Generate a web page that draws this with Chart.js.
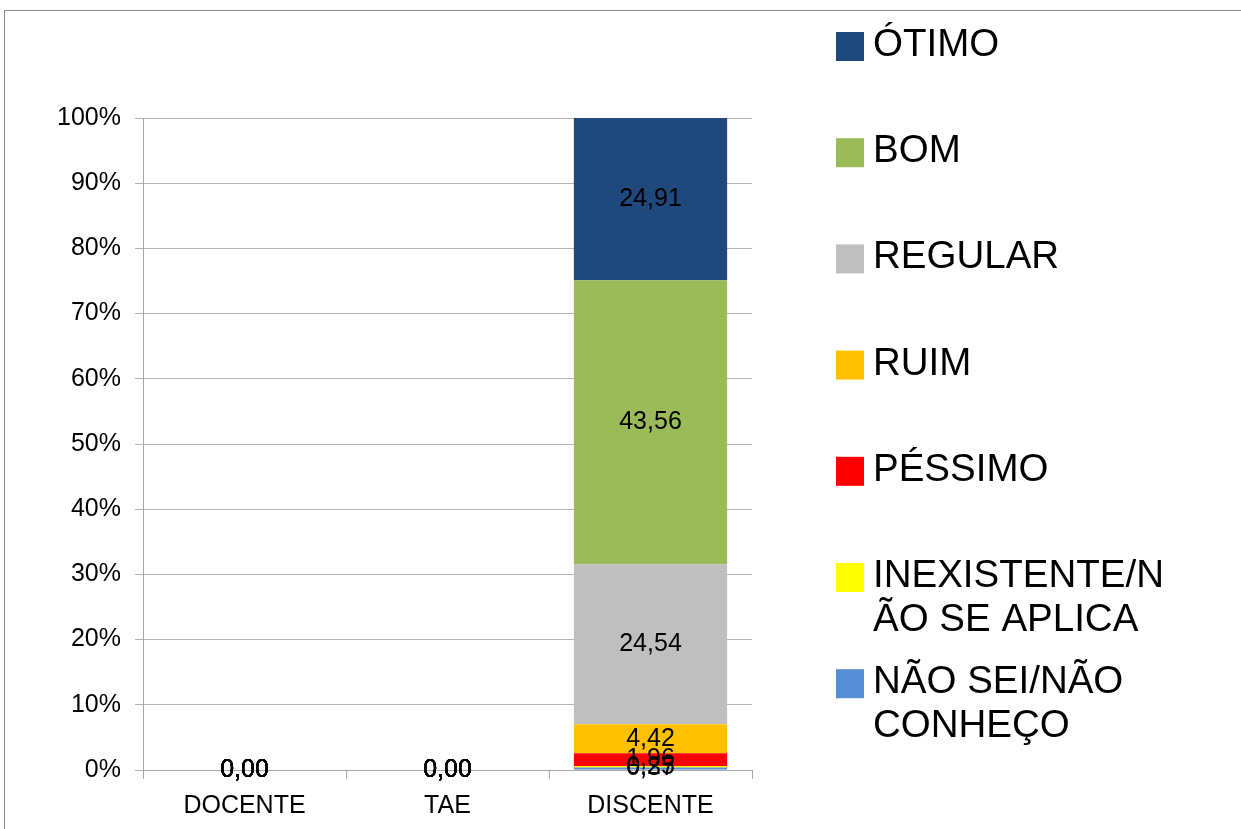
<!DOCTYPE html>
<html>
<head>
<meta charset="utf-8">
<script src="https://cdn.jsdelivr.net/npm/chart.js@4"></script>
<style>
  body { margin: 0; background: #fff; }
  canvas { display: block; }
</style>
</head>
<body>
<canvas id="stackedChart" width="1241" height="829"></canvas>
<script>
// categories and series (bottom of the stack first)
var categories = ['DOCENTE', 'TAE', 'DISCENTE'];
var seriesNames = ['NÃO SEI/NÃO CONHEÇO', 'INEXISTENTE/NÃO SE APLICA', 'PÉSSIMO', 'RUIM', 'REGULAR', 'BOM', 'ÓTIMO'];
var seriesColors = ['#558ed5', '#ffff00', '#ff0000', '#ffc000', '#bfbfbf', '#9bbb59', '#1f497d'];
var naoSei = [0, 0, 0.37];
var inexistente = [0, 0, 0.25];
var pessimo = [0, 0, 1.96];
var ruim = [0, 0, 4.42];
var regular = [0, 0, 24.54];
var bom = [0, 0, 43.56];
var otimo = [0, 0, 24.91];
var yTicks = [0, 10, 20, 30, 40, 50, 60, 70, 80, 90, 100];

var seriesValues = [naoSei, inexistente, pessimo, ruim, regular, bom, otimo];
var fontFamily = '"Liberation Sans", Arial, sans-serif';

document.addEventListener("DOMContentLoaded", function() {
    var ctx = document.getElementById('stackedChart').getContext('2d');

    var datasets = seriesValues.map(function(vals, i) {
        return {
            label: seriesNames[i],
            data: vals,
            backgroundColor: seriesColors[i],
            borderWidth: 0,
            barPercentage: 0.755,
            categoryPercentage: 1
        };
    });

    // values written in the middle of each segment
    var valueLabels = {
        id: 'valueLabels',
        afterDatasetsDraw: function(chart) {
            var c = chart.ctx;
            c.save();
            c.font = '25px ' + fontFamily;
            c.fillStyle = '#000';
            c.textAlign = 'center';
            c.textBaseline = 'middle';
            chart.data.datasets.forEach(function(ds, i) {
                chart.getDatasetMeta(i).data.forEach(function(bar, j) {
                    var txt = ds.data[j].toFixed(2).replace('.', ',');
                    c.fillText(txt, bar.x, (bar.y + bar.base) / 2);
                });
            });
            c.restore();
        }
    };

    // wrap a legend label like the spreadsheet does
    function wrapText(c, text, maxW) {
        var lines = [];
        var line = '';
        text.split(' ').forEach(function(word) {
            var test = line ? line + ' ' + word : word;
            if (c.measureText(test).width <= maxW) {
                line = test;
                return;
            }
            if (line) { lines.push(line); line = ''; }
            var chunk = '';
            for (var k = 0; k < word.length; k++) {
                if (c.measureText(chunk + word[k]).width > maxW) {
                    lines.push(chunk);
                    chunk = '';
                }
                chunk += word[k];
            }
            line = chunk;
        });
        if (line) lines.push(line);
        return lines;
    }

    var sideLegend = {
        id: 'sideLegend',
        afterDraw: function(chart) {
            var c = chart.ctx;
            c.save();
            // outer frame
            c.strokeStyle = '#8c8c8c';
            c.lineWidth = 1;
            c.strokeRect(4.5, 10.5, 1400, 900);

            c.font = '38.5px ' + fontFamily;
            c.textBaseline = 'alphabetic';
            c.textAlign = 'left';
            var ds = chart.data.datasets.slice().reverse();
            ds.forEach(function(d, i) {
                var base = 56 + i * 106.2;
                c.fillStyle = d.backgroundColor;
                c.fillRect(836, base - 24, 28, 29);
                c.fillStyle = '#000';
                wrapText(c, d.label, 305).forEach(function(ln, k) {
                    c.fillText(ln, 873, base + k * 43.5);
                });
            });
            c.restore();
        }
    };

    new Chart(ctx, {
        type: 'bar',
        data: {
            labels: categories,
            datasets: datasets
        },
        options: {
            responsive: false,
            animation: false,
            layout: {
                padding: { top: 118, right: 489, left: 0, bottom: 0 }
            },
            scales: {
                x: {
                    stacked: true,
                    afterFit: function(scale) { scale.height = 59; },
                    grid: {
                        display: true,
                        drawOnChartArea: false,
                        drawTicks: true,
                        tickLength: 9,
                        color: '#a6a6a6'
                    },
                    border: { color: '#a6a6a6' },
                    ticks: {
                        color: '#000',
                        padding: 12,
                        font: { family: fontFamily, size: 25 }
                    }
                },
                y: {
                    stacked: true,
                    min: 0,
                    max: 100,
                    afterFit: function(scale) { scale.width = 143; },
                    afterBuildTicks: function(scale) {
                        scale.ticks = yTicks.map(function(v) { return { value: v }; });
                    },
                    grid: {
                        color: '#b3b3b3',
                        tickLength: 8
                    },
                    border: { color: '#a6a6a6' },
                    ticks: {
                        color: '#000',
                        padding: 14,
                        font: { family: fontFamily, size: 25 },
                        callback: function(v) { return v + '%'; }
                    }
                }
            },
            plugins: {
                legend: { display: false },
                tooltip: { enabled: false }
            }
        },
        plugins: [valueLabels, sideLegend]
    });
});
</script>
</body>
</html>
